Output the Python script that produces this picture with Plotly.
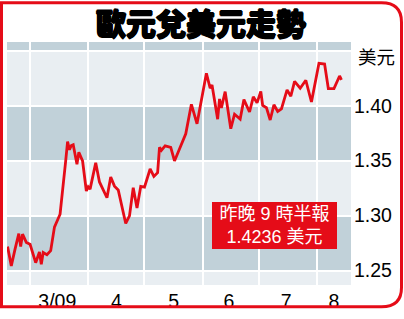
import plotly.graph_objects as go

# ---- data (EUR/USD, 2009) ----
dates = [
    "2009-02-17", "2009-02-19", "2009-02-21", "2009-02-23", "2009-02-24", "2009-02-25", "2009-02-27",
    "2009-03-01", "2009-03-04", "2009-03-06", "2009-03-07", "2009-03-08", "2009-03-10", "2009-03-12",
    "2009-03-14", "2009-03-17", "2009-03-20", "2009-03-21", "2009-03-22", "2009-03-23", "2009-03-24",
    "2009-03-26", "2009-03-27", "2009-03-29", "2009-03-31", "2009-04-01", "2009-04-02", "2009-04-05",
    "2009-04-07", "2009-04-11", "2009-04-13", "2009-04-15", "2009-04-17", "2009-04-19", "2009-04-21",
    "2009-04-23", "2009-04-25", "2009-04-27", "2009-04-29", "2009-05-01", "2009-05-04", "2009-05-06",
    "2009-05-08", "2009-05-09", "2009-05-10", "2009-05-12", "2009-05-15", "2009-05-17", "2009-05-21",
    "2009-05-23", "2009-05-26", "2009-05-29", "2009-06-03", "2009-06-05", "2009-06-06",
    "2009-06-09", "2009-06-10", "2009-06-11", "2009-06-13", "2009-06-16", "2009-06-18", "2009-06-21",
    "2009-06-23", "2009-06-26", "2009-06-28", "2009-06-30", "2009-07-02", "2009-07-03", "2009-07-05",
    "2009-07-07", "2009-07-09", "2009-07-11", "2009-07-13", "2009-07-16", "2009-07-18", "2009-07-20",
    "2009-07-23", "2009-07-26", "2009-07-29", "2009-08-02", "2009-08-05", "2009-08-07", "2009-08-10",
    "2009-08-13", "2009-08-14",
]
rates = [
    1.2718, 1.2542, 1.2695, 1.2836, 1.2718, 1.2831, 1.2756,
    1.2739, 1.2571, 1.2668, 1.2556, 1.2664, 1.2644, 1.2681,
    1.2895, 1.3012, 1.3497, 1.3674, 1.3600, 1.3638, 1.3645,
    1.3468, 1.3577, 1.3497, 1.3224, 1.3262, 1.3241, 1.3480,
    1.3306, 1.3162, 1.3350, 1.3268, 1.3233, 1.3071, 1.2928,
    1.2997, 1.3253, 1.3068, 1.3265, 1.3259, 1.3424, 1.3356,
    1.3391, 1.3621, 1.3594, 1.3634, 1.3621, 1.3497, 1.3656,
    1.3744, 1.4013, 1.3835, 1.4295, 1.4159, 1.4188,
    1.3877, 1.4062, 1.3980, 1.4128, 1.3791, 1.3923, 1.3879,
    1.4056, 1.3943, 1.4081, 1.4026, 1.4130, 1.4003, 1.3982,
    1.3870, 1.4009, 1.3947, 1.3972, 1.4144, 1.4086, 1.4221,
    1.4159, 1.4232, 1.4034, 1.4386, 1.4379, 1.4156, 1.4156,
    1.4271, 1.4236,
]
month_starts = ["2009-03-01", "2009-04-01", "2009-05-01", "2009-06-01", "2009-07-01", "2009-08-01"]
month_label_pos = ["2009-03-15 12:00", "2009-04-16", "2009-05-16 12:00",
                   "2009-06-15 00:00", "2009-07-15 12:00", "2009-08-10"]
month_labels = ["3/09", "4", "5", "6", "7", "8"]
y_ticks = [1.25, 1.30, 1.35, 1.40, 1.45]
y_labels = ["1.25", "1.30", "1.35", "1.40", ""]
gray_bands = [(1.25, 1.30), (1.35, 1.40), (1.45, 1.47)]
x_range = ["2009-02-16 17:00", "2009-08-19 02:00"]
y_range = [1.2368, 1.458]

title = "歐元兌美元走勢"
unit = "美元"
note = "昨晚 9 時半報<br>1.4236 美元"

RED = "#e50c18"
GRAY = "#c1d1d9"
LIGHT = "#e9eef2"
W, H = 404, 319
L, R, T, B = 7, 53, 42, 26
pw, ph = W - L - R, H - T - B

def px(x):
    return (x - L) / pw

def py(y):
    return (H - B - y) / ph

fig = go.Figure()
fig.add_trace(go.Scatter(x=dates, y=rates, mode="lines",
                         line=dict(color=RED, width=2.8), hoverinfo="skip"))

shapes = []
for lo, hi in gray_bands:
    shapes.append(dict(type="rect", xref="paper", yref="y", x0=0, x1=1, y0=lo, y1=hi,
                       fillcolor=GRAY, line=dict(width=0), layer="below"))

# outer red frame with rounded right corners
x0, y0, x1, y1, r = 1.5, 1.5, 401.5, 315.5, 20
path = (f"M {px(x0)},{py(y0)} L {px(x1 - r)},{py(y0)} Q {px(x1)},{py(y0)} {px(x1)},{py(y0 + r)} "
        f"L {px(x1)},{py(y1 - r)} Q {px(x1)},{py(y1)} {px(x1 - r)},{py(y1)} "
        f"L {px(x0)},{py(y1)} Z")
shapes.append(dict(type="path", xref="paper", yref="paper", path=path,
                   line=dict(color=RED, width=3), fillcolor="rgba(0,0,0,0)", layer="above"))

num_font = "Liberation Sans, Arial, Noto Sans CJK TC, sans-serif"
cjk_font = "Liberation Sans, Noto Sans CJK TC, sans-serif"

annotations = [
    dict(text=title, xref="paper", yref="paper", x=px(201), y=py(21.5),
         xanchor="center", yanchor="middle", showarrow=False,
         font=dict(family="Noto Sans CJK TC", size=30, color="black", weight=900,
                   shadow="0.8px 0 0 #000, -0.8px 0 0 #000, 0 0.8px 0 #000, 0 -0.8px 0 #000")),
    dict(text=unit, xref="paper", yref="paper", x=px(356), y=py(56),
         xanchor="left", yanchor="middle", showarrow=False,
         font=dict(family="Noto Sans CJK TC", size=18.5, color="black")),
    dict(text=note, xref="paper", yref="paper", x=px(274.5), y=py(231.5),
         xanchor="center", yanchor="middle", showarrow=False,
         width=121, height=43, borderpad=2, borderwidth=0, bgcolor=RED,
         font=dict(family=cjk_font, size=18, color="white")),
]

fig.update_layout(
    width=W, height=H,
    margin=dict(l=L, r=R, t=T, b=B, pad=0),
    paper_bgcolor="white", plot_bgcolor=LIGHT,
    showlegend=False,
    shapes=shapes, annotations=annotations,
    xaxis=dict(type="date", range=x_range, tickmode="array",
               tickvals=month_label_pos, ticktext=month_labels,
               showgrid=False, ticks="", zeroline=False, showline=False,
               tickfont=dict(family=num_font, size=19.5, color="black"),
               ticklabelstandoff=2,
               minor=dict(tickmode="array", tickvals=month_starts, showgrid=True,
                          gridcolor="white", gridwidth=1.5, ticks="")),
    yaxis=dict(range=y_range, side="right", tickmode="array",
               tickvals=y_ticks, ticktext=y_labels,
               showgrid=True, gridcolor="white", gridwidth=2,
               ticks="", zeroline=False, showline=False,
               tickfont=dict(family=num_font, size=19.5, color="black"),
               ticklabelstandoff=2),
)

fig.write_html("out.html")
